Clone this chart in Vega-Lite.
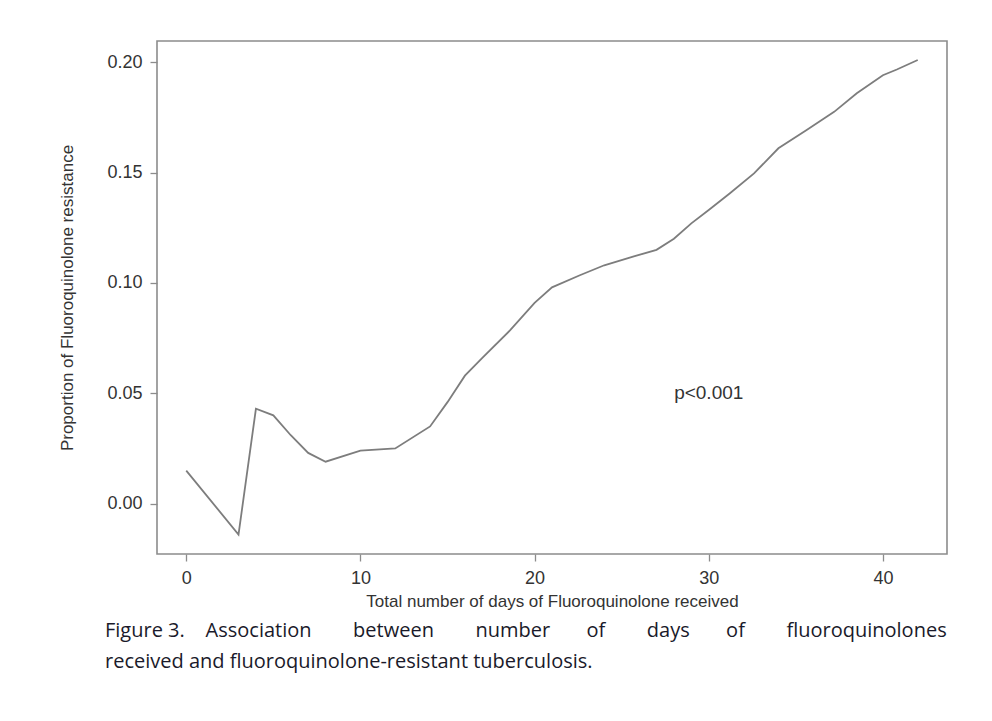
{
  "$schema": "https://vega.github.io/schema/vega-lite/v6.json",
  "width": 790,
  "height": 513,
  "autosize": {"type": "none"},
  "padding": {"left": 157, "top": 41, "right": 45, "bottom": 167},
  "background": "white",
  "config": {
    "view": {"stroke": "#8c8c8c", "strokeWidth": 1.6},
    "font": "Liberation Sans"
  },
  "title": {
    "text": ["Figure 3.\u00a0\u00a0\u00a0\u00a0Association\u00a0\u00a0\u00a0\u00a0\u00a0\u00a0\u00a0\u00a0between\u00a0\u00a0\u00a0\u00a0\u00a0\u00a0\u00a0\u00a0number\u00a0\u00a0\u00a0\u00a0\u00a0\u00a0\u00a0of\u00a0\u00a0\u00a0\u00a0\u00a0\u00a0\u00a0\u00a0days\u00a0\u00a0\u00a0\u00a0\u00a0\u00a0\u00a0of\u00a0\u00a0\u00a0\u00a0\u00a0\u00a0\u00a0\u00a0fluoroquinolones", "received and fluoroquinolone-resistant tuberculosis."],
    "orient": "bottom",
    "anchor": "start",
    "frame": "group",
    "dx": -52,
    "offset": 12,
    "font": "Open Sans",
    "fontSize": 20,
    "fontWeight": "normal",
    "lineHeight": 31,
    "color": "#1a1a2a"
  },
  "datasets": {
    "curve": [
      {"days": 0, "prop": 0.015},
      {"days": 3, "prop": -0.014},
      {"days": 4, "prop": 0.043},
      {"days": 5, "prop": 0.040},
      {"days": 6, "prop": 0.031},
      {"days": 7, "prop": 0.023},
      {"days": 8, "prop": 0.019},
      {"days": 10, "prop": 0.024},
      {"days": 12, "prop": 0.025},
      {"days": 14, "prop": 0.035},
      {"days": 15, "prop": 0.046},
      {"days": 16, "prop": 0.058},
      {"days": 17, "prop": 0.066},
      {"days": 18.6, "prop": 0.0786},
      {"days": 20, "prop": 0.091},
      {"days": 21, "prop": 0.098},
      {"days": 22.6, "prop": 0.1035},
      {"days": 24, "prop": 0.108},
      {"days": 25.7, "prop": 0.112},
      {"days": 27, "prop": 0.115},
      {"days": 28, "prop": 0.120},
      {"days": 29, "prop": 0.127},
      {"days": 30, "prop": 0.133},
      {"days": 31.2, "prop": 0.1405},
      {"days": 32.6, "prop": 0.1496},
      {"days": 34, "prop": 0.161},
      {"days": 35.6, "prop": 0.1692},
      {"days": 37.2, "prop": 0.1775},
      {"days": 38.5, "prop": 0.1859},
      {"days": 40, "prop": 0.1941},
      {"days": 40.8, "prop": 0.1967},
      {"days": 42, "prop": 0.201}
    ],
    "note": [{"days": 30, "prop": 0.05, "label": "p<0.001"}]
  },
  "layer": [
    {
      "data": {"name": "curve"},
      "mark": {"type": "line", "color": "#7d7d7d", "strokeWidth": 1.8},
      "encoding": {
        "x": {
          "field": "days",
          "type": "quantitative",
          "scale": {"domain": [-1.68, 43.68], "nice": false, "zero": false},
          "axis": {
            "values": [0, 10, 20, 30, 40],
            "domain": false,
            "grid": false,
            "tickColor": "#8c8c8c",
            "tickSize": 7,
            "tickWidth": 1.3,
            "labelPadding": 8,
            "labelFontSize": 18,
            "labelColor": "#333333",
            "title": "Total number of days of Fluoroquinolone received",
            "titleFontSize": 17,
            "titleFontWeight": "normal",
            "titleColor": "#333333",
            "titlePadding": 6
          }
        },
        "y": {
          "field": "prop",
          "type": "quantitative",
          "scale": {"domain": [-0.0228, 0.2096], "nice": false, "zero": false},
          "axis": {
            "values": [0, 0.05, 0.1, 0.15, 0.2],
            "format": ".2f",
            "domain": false,
            "grid": false,
            "tickColor": "#8c8c8c",
            "tickSize": 7,
            "tickWidth": 1.3,
            "labelPadding": 8,
            "labelFontSize": 18,
            "labelColor": "#333333",
            "title": "Proportion of Fluoroquinolone resistance",
            "titleFontSize": 17,
            "titleFontWeight": "normal",
            "titleColor": "#333333",
            "titlePadding": 30
          }
        }
      }
    },
    {
      "data": {"name": "note"},
      "mark": {"type": "text", "fontSize": 19, "color": "#333333", "font": "Liberation Sans"},
      "encoding": {
        "x": {"field": "days", "type": "quantitative"},
        "y": {"field": "prop", "type": "quantitative"},
        "text": {"field": "label"}
      }
    }
  ]
}
